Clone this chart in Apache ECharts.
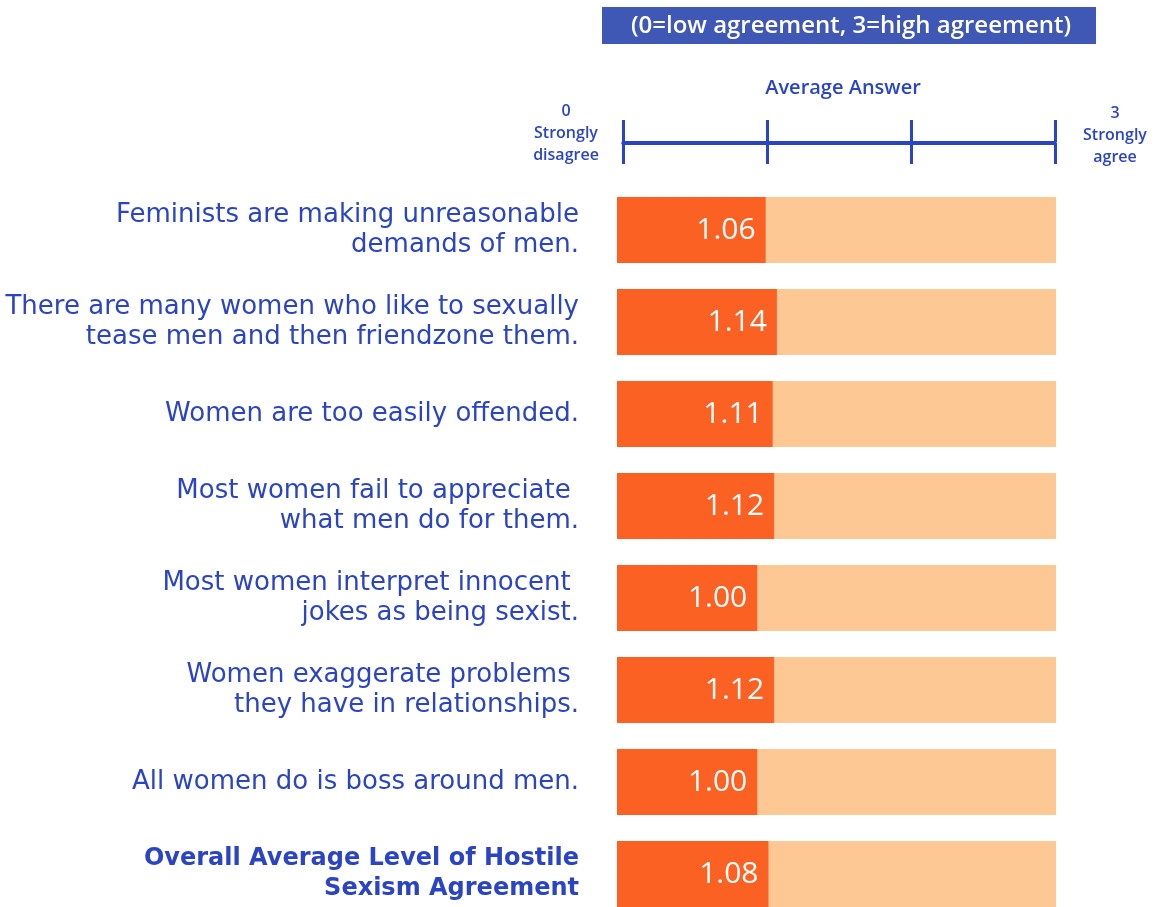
<!DOCTYPE html>
<html>
<head>
<meta charset="utf-8">
<script src="https://cdn.jsdelivr.net/npm/echarts@6/dist/echarts.min.js"></script>
<style>html,body{margin:0;padding:0;background:#fff;}#c{width:1156px;height:907px;}</style>
</head>
<body>
<div id="c"></div>
<script>
const categories = [
  "Feminists are making unreasonable\ndemands of men.",
  "There are many women who like to sexually\ntease men and then friendzone them.",
  "Women are too easily offended.",
  "Most women fail to appreciate \nwhat men do for them.",
  "Most women interpret innocent \njokes as being sexist.",
  "Women exaggerate problems \nthey have in relationships.",
  "All women do is boss around men.",
  "Overall Average Level of Hostile\nSexism Agreement"
];
const values = [1.06, 1.14, 1.11, 1.12, 1.00, 1.12, 1.00, 1.08];
const scaleTicks = [0, 1, 2, 3];
const scaleEnds = ["0\nStrongly\ndisagree", "3\nStrongly\nagree"];
const headerText = "(0=low agreement, 3=high agreement)";
const axisTitle = "Average Answer";

const BLUE = '#2B45C2';
const FONT = 'Open Sans';
const LFONT = 'DejaVu Sans';
const chart = echarts.init(document.getElementById('c'), null, {renderer: 'canvas'});

chart.setOption({
  backgroundColor: '#ffffff',
  animation: false,
  textStyle: {fontFamily: FONT},
  grid: [
    {left: 617, width: 439, top: 230, height: 644, containLabel: false},
    {left: 623, width: 432, top: 142, height: 1, containLabel: false}
  ],
  xAxis: [
    {type: 'value', gridIndex: 0, min: 0, max: 3.13, show: false},
    {type: 'value', gridIndex: 1, min: scaleTicks[0], max: scaleTicks[scaleTicks.length-1], interval: 1, position: 'bottom',
     axisLine: {show: true, lineStyle: {color: BLUE, width: 3}},
     axisTick: {show: true, length: 21, lineStyle: {color: BLUE, width: 3}},
     axisLabel: {show: false}, splitLine: {show: false}},
    {type: 'value', gridIndex: 1, min: scaleTicks[0], max: scaleTicks[scaleTicks.length-1], interval: 1, position: 'top',
     axisLine: {show: true, lineStyle: {color: BLUE, width: 3}},
     axisTick: {show: true, length: 22, lineStyle: {color: BLUE, width: 3}},
     axisLabel: {show: false}, splitLine: {show: false}}
  ],
  yAxis: [
    {type: 'category', gridIndex: 0, data: categories, inverse: true, boundaryGap: false,
     axisLine: {show: false}, axisTick: {show: false}, splitLine: {show: false},
     axisLabel: {
       margin: 38, align: 'right', color: BLUE, fontSize: 26, fontFamily: LFONT, lineHeight: 30,
       formatter: function (v, i) {
         if (i === categories.length - 1) {
           return v.split('\n').map(s => '{b|' + s + '}').join('\n');
         }
         return v;
       },
       rich: {b: {fontWeight: 'bold', fontSize: 24, color: BLUE, fontFamily: LFONT, lineHeight: 30}}
     }},
    {type: 'value', gridIndex: 1, show: false, min: 0, max: 1}
  ],
  series: [
    {
      type: 'bar', xAxisIndex: 0, yAxisIndex: 0, data: values, barWidth: 66, clip: false,
      itemStyle: {color: '#FC6124'},
      showBackground: true, backgroundStyle: {color: '#FEC895'},
      label: {show: true, position: 'insideRight', distance: 10, color: '#ffffff', fontSize: 30, fontFamily: FONT,
              formatter: p => p.value.toFixed(2)}
    },
    {type: 'scatter', xAxisIndex: 1, yAxisIndex: 1, data: []}
  ],
  graphic: [
    {type: 'rect', left: 602, top: 7, shape: {width: 494, height: 37}, style: {fill: '#3F57B5'}},
    {type: 'text', x: 851, y: 26, style: {text: headerText, fill: '#ffffff', font: '600 24px "Open Sans"', textAlign: 'center', textVerticalAlign: 'middle'}},
    {type: 'text', x: 843, y: 88, style: {text: axisTitle, fill: BLUE, font: '600 20px "Open Sans"', textAlign: 'center', textVerticalAlign: 'middle'}},
    {type: 'text', x: 566, y: 133, style: {text: scaleEnds[0], fill: BLUE, font: '600 16px "Open Sans"', lineHeight: 22, textAlign: 'center', textVerticalAlign: 'middle'}},
    {type: 'text', x: 1115, y: 135, style: {text: scaleEnds[1], fill: BLUE, font: '600 16px "Open Sans"', lineHeight: 22, textAlign: 'center', textVerticalAlign: 'middle'}}
  ]
});
</script>
</body>
</html>
